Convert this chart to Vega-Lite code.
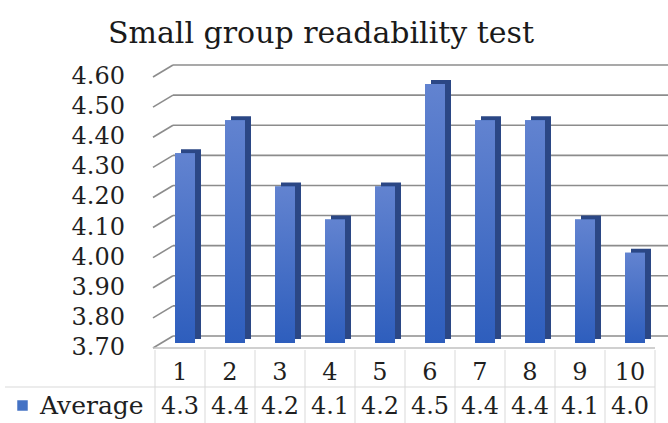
{
  "$schema": "https://vega.github.io/schema/vega-lite/v6.json",
  "width": 500,
  "height": 271,
  "autosize": {"type": "none"},
  "padding": {"left": 155, "top": 77, "right": 13, "bottom": 75},
  "background": "white",
  "title": {
    "text": "Small group readability test",
    "font": "DejaVu Serif",
    "fontSize": 30,
    "fontWeight": "normal",
    "color": "#1a1a1a",
    "anchor": "middle",
    "frame": "group",
    "dx": -84,
    "dy": 31,
    "offset": 22,
    "baseline": "alphabetic"
  },
  "datasets": {
    "scores": [
      {"trial": 1, "avg": 4.33, "shown": "4.3"},
      {"trial": 2, "avg": 4.44, "shown": "4.4"},
      {"trial": 3, "avg": 4.22, "shown": "4.2"},
      {"trial": 4, "avg": 4.11, "shown": "4.1"},
      {"trial": 5, "avg": 4.22, "shown": "4.2"},
      {"trial": 6, "avg": 4.56, "shown": "4.5"},
      {"trial": 7, "avg": 4.44, "shown": "4.4"},
      {"trial": 8, "avg": 4.44, "shown": "4.4"},
      {"trial": 9, "avg": 4.11, "shown": "4.1"},
      {"trial": 10, "avg": 4.0, "shown": "4.0"}
    ],
    "grid": [
      {"v": 3.7}, {"v": 3.8}, {"v": 3.9}, {"v": 4.0}, {"v": 4.1},
      {"v": 4.2}, {"v": 4.3}, {"v": 4.4}, {"v": 4.5}, {"v": 4.6}
    ],
    "one": [{}]
  },
  "config": {
    "view": {"stroke": null},
    "scale": {"bandPaddingInner": 0, "bandPaddingOuter": 0},
    "font": "DejaVu Serif",
    "axis": {"labelFont": "DejaVu Serif", "labelFontSize": 24, "labelColor": "#1f1f1f", "labelOverlap": false}
  },
  "layer": [
    {
      "data": {"name": "grid"},
      "mark": {"type": "rule", "color": "#8c8c8c", "strokeWidth": 1.6, "xOffset": 18, "x2Offset": 18, "yOffset": -12, "y2Offset": -12},
      "encoding": {
        "x": {
          "datum": 1, "type": "ordinal", "bandPosition": 0, "title": null,
          "axis": {"labelAngle": 0, "ticks": false, "domain": false, "grid": false, "bandPosition": 0.5, "labelAlign": "center", "labelFlush": false, "labelPadding": 24, "labelBaseline": "middle", "title": null}
        },
        "x2": {"datum": 10, "bandPosition": 1},
        "y": {"field": "v", "type": "quantitative", "title": null, "axis": null, "scale": {"domain": [3.7, 4.6], "nice": false, "zero": false}},
        "y2": {"field": "v"}
      }
    },
    {
      "data": {"name": "grid"},
      "mark": {"type": "rule", "color": "#8c8c8c", "strokeWidth": 1.6, "xOffset": -2, "x2Offset": 18, "y2Offset": -12},
      "encoding": {
        "x": {"datum": 1, "type": "ordinal", "bandPosition": 0, "title": null},
        "x2": {"datum": 1, "bandPosition": 0},
        "y": {"field": "v", "type": "quantitative", "title": null, "axis": null, "scale": {"domain": [3.7, 4.6], "nice": false, "zero": false}},
        "y2": {"field": "v"}
      }
    },
    {
      "data": {"name": "grid"},
      "mark": {"type": "text", "font": "DejaVu Serif", "fontSize": 24, "color": "#1f1f1f", "align": "right", "baseline": "middle", "xOffset": -30},
      "encoding": {
        "x": {"datum": 1, "type": "ordinal", "bandPosition": 0, "title": null},
        "y": {"field": "v", "type": "quantitative", "title": null, "axis": null, "scale": {"domain": [3.7, 4.6], "nice": false, "zero": false}},
        "text": {"field": "v", "type": "quantitative", "format": ".2f"}
      }
    },
    {
      "data": {"name": "one"},
      "mark": {"type": "rule", "color": "#c0c0c0", "strokeWidth": 1.5, "xOffset": -2},
      "encoding": {
        "x": {"datum": 1, "type": "ordinal", "bandPosition": 0, "title": null},
        "x2": {"datum": 10, "bandPosition": 1},
        "y": {"datum": 3.7, "type": "quantitative", "title": null, "axis": null, "scale": {"domain": [3.7, 4.6], "nice": false, "zero": false}},
        "y2": {"datum": 3.7}
      }
    },
    {
      "data": {"name": "scores"},
      "mark": {"type": "bar", "color": "#2b4785", "width": {"band": 0.4}, "xOffset": 11, "yOffset": -9, "y2Offset": -9},
      "encoding": {
        "x": {"field": "trial", "type": "ordinal", "title": null},
        "y": {"field": "avg", "type": "quantitative", "title": null, "axis": null, "scale": {"domain": [3.7, 4.6], "nice": false, "zero": false}},
        "y2": {"datum": 3.7}
      }
    },
    {
      "data": {"name": "scores"},
      "mark": {"type": "bar", "width": {"band": 0.4}, "xOffset": 5, "yOffset": -5, "y2Offset": -5},
      "encoding": {
        "x": {"field": "trial", "type": "ordinal", "title": null},
        "y": {"field": "avg", "type": "quantitative", "title": null, "axis": null, "scale": {"domain": [3.7, 4.6], "nice": false, "zero": false}},
        "y2": {"datum": 3.7},
        "color": {
          "datum": "Average",
          "scale": {"range": ["#4472c4"]},
          "legend": {
            "orient": "none", "legendX": -145, "legendY": 316, "title": null,
            "symbolType": "square", "symbolSize": 110, "symbolStrokeWidth": 0,
            "labelFont": "DejaVu Serif", "labelFontSize": 25, "labelColor": "#1f1f1f",
            "labelOffset": 5, "padding": 0
          }
        }
      }
    },
    {
      "data": {"name": "scores"},
      "mark": {
        "type": "bar", "width": {"band": 0.4}, "xOffset": 5, "yOffset": -5, "y2Offset": -5,
        "fill": {"gradient": "linear", "x1": 0, "y1": 0, "x2": 0, "y2": 1, "stops": [{"offset": 0, "color": "#6283d0"}, {"offset": 1, "color": "#2e5ebd"}]}
      },
      "encoding": {
        "x": {"field": "trial", "type": "ordinal", "title": null},
        "y": {"field": "avg", "type": "quantitative", "title": null, "axis": null, "scale": {"domain": [3.7, 4.6], "nice": false, "zero": false}},
        "y2": {"datum": 3.7}
      }
    },
    {
      "data": {"name": "scores"},
      "mark": {"type": "rule", "color": "#d9d9d9", "strokeWidth": 1, "yOffset": 2, "y2Offset": 75},
      "encoding": {
        "x": {"field": "trial", "type": "ordinal", "bandPosition": 0, "title": null},
        "y": {"datum": 3.7, "type": "quantitative", "title": null, "axis": null, "scale": {"domain": [3.7, 4.6], "nice": false, "zero": false}},
        "y2": {"datum": 3.7}
      }
    },
    {
      "data": {"name": "one"},
      "mark": {"type": "rule", "color": "#d9d9d9", "strokeWidth": 1, "yOffset": 2, "y2Offset": 75},
      "encoding": {
        "x": {"datum": 10, "type": "ordinal", "bandPosition": 1, "title": null},
        "y": {"datum": 3.7, "type": "quantitative", "title": null, "axis": null, "scale": {"domain": [3.7, 4.6], "nice": false, "zero": false}},
        "y2": {"datum": 3.7}
      }
    },
    {
      "data": {"name": "one"},
      "mark": {"type": "rule", "color": "#d9d9d9", "strokeWidth": 1, "xOffset": -150, "yOffset": 39, "y2Offset": 39},
      "encoding": {
        "x": {"datum": 1, "type": "ordinal", "bandPosition": 0, "title": null},
        "x2": {"datum": 10, "bandPosition": 1},
        "y": {"datum": 3.7, "type": "quantitative", "title": null, "axis": null, "scale": {"domain": [3.7, 4.6], "nice": false, "zero": false}},
        "y2": {"datum": 3.7}
      }
    },
    {
      "data": {"name": "scores"},
      "mark": {"type": "text", "font": "DejaVu Serif", "fontSize": 24, "color": "#1f1f1f", "baseline": "middle", "yOffset": 59},
      "encoding": {
        "x": {"field": "trial", "type": "ordinal", "title": null},
        "y": {"datum": 3.7, "type": "quantitative", "title": null, "axis": null, "scale": {"domain": [3.7, 4.6], "nice": false, "zero": false}},
        "text": {"field": "shown"}
      }
    }
  ]
}
